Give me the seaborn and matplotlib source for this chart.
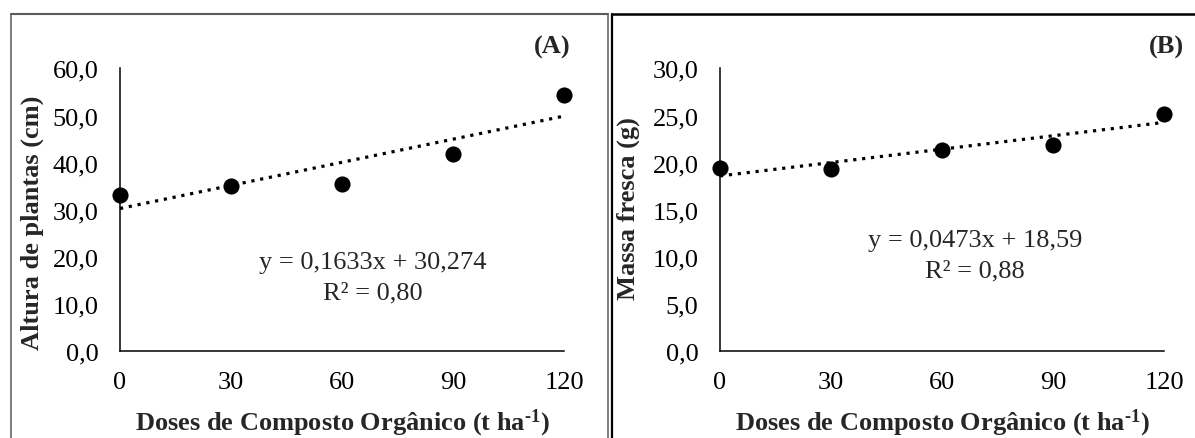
import matplotlib
matplotlib.use("Agg")
import matplotlib.pyplot as plt
from matplotlib.lines import Line2D
from matplotlib.ticker import FuncFormatter, MultipleLocator
import numpy as np
import pandas as pd
import seaborn as sns

# ---------------- data ----------------
doses = [0, 30, 60, 90, 120]
altura = [33.2, 35.1, 35.5, 41.8, 54.4]
massa = [19.4, 19.3, 21.3, 21.9, 25.2]

slope_a, intercept_a = 0.1633, 30.274
slope_b, intercept_b = 0.0473, 18.59

eq_a = "y = 0,1633x + 30,274"
r2_a = "R² = 0,80"
eq_b = "y = 0,0473x + 18,59"
r2_b = "R² = 0,88"
ylabel_a = "Altura de plantas (cm)"
ylabel_b = "Massa fresca (g)"
xlabel = r"Doses de Composto Orgânico (t ha$^{\text{-}1}$)"
panel_a = "(A)"
panel_b = "(B)"

# ---------------- style ----------------
sns.set_theme(style="white")
plt.rcParams["font.family"] = ["Liberation Serif", "DejaVu Serif"]
plt.rcParams["mathtext.fontset"] = "custom"
plt.rcParams["mathtext.rm"] = "Liberation Serif:bold"
plt.rcParams["mathtext.bf"] = "Liberation Serif:bold"
plt.rcParams["mathtext.default"] = "rm"

FS = 19
W, H = 1195, 439
fig = plt.figure(figsize=(W / 100, H / 100), dpi=100)
fig.patch.set_facecolor("white")

def fx(px):
    return px / W

def fy(py):
    return 1 - py / H

ax_a = fig.add_axes([fx(120), fy(352.3), fx(564) - fx(120), fy(69.3) - fy(352.3)])
ax_b = fig.add_axes([fx(720), fy(352.3), fx(1164) - fx(720), fy(69.3) - fy(352.3)])

fmt = FuncFormatter(lambda v, p: f"{v:.1f}".replace(".", ","))

def draw(ax, y, slope, intercept, ymax, ystep, ylabel, eq, r2, eq_xy, ylab_xy):
    df = pd.DataFrame({"dose": doses, "val": y})
    trend = pd.DataFrame({"dose": [doses[0], doses[-1]]})
    trend["fit"] = intercept + slope * trend["dose"]
    sns.lineplot(data=trend, x="dose", y="fit", ax=ax, color="black",
                 linewidth=2.3, linestyle=(0, (1, 1.8)), clip_on=False)
    sns.scatterplot(data=df, x="dose", y="val", ax=ax, color="black",
                    s=135, edgecolor="black", linewidth=0, clip_on=False, zorder=5)
    ax.set_xlim(0, 120)
    ax.set_ylim(0, ymax)
    ax.xaxis.set_major_locator(MultipleLocator(30))
    ax.yaxis.set_major_locator(MultipleLocator(ystep))
    ax.yaxis.set_major_formatter(fmt)
    ax.tick_params(axis="both", length=0, labelsize=FS, colors="black")
    ax.tick_params(axis="y", pad=15.5)
    ax.tick_params(axis="x", pad=14)
    for s in ["top", "right"]:
        ax.spines[s].set_visible(False)
    for s in ["left", "bottom"]:
        ax.spines[s].set_color("black")
        ax.spines[s].set_linewidth(1.1)
    ax.set_facecolor("white")
    ax.grid(False)
    ax.set_xlabel(xlabel, fontsize=FS, fontweight="bold")
    ax.xaxis.set_label_coords(0.5, -0.25)
    ax.xaxis.label.set_verticalalignment("center")
    ax.set_ylabel(ylabel, fontsize=FS, fontweight="bold")
    ax.yaxis.set_label_coords(*ylab_xy)
    ax.yaxis.label.set_verticalalignment("center")
    fig.text(fx(eq_xy[0]), fy(eq_xy[1]), eq, fontsize=FS, ha="center", va="center")
    fig.text(fx(eq_xy[0]), fy(eq_xy[1] + 30), r2, fontsize=FS, ha="center", va="center")

draw(ax_a, altura, slope_a, intercept_a, 60, 10, ylabel_a, eq_a, r2_a, (373, 263),
     (-0.198, 0.457))
draw(ax_b, massa, slope_b, intercept_b, 30, 5, ylabel_b, eq_b, r2_b, (975, 241),
     (-0.206, 0.508))

fig.text(fx(551.7), fy(47), panel_a, fontsize=FS, fontweight="bold",
         ha="center", va="center")
fig.text(fx(1166.5), fy(47), panel_b, fontsize=FS, fontweight="bold",
         ha="center", va="center")

# frames
gray = "#5a5a5a"
fig.add_artist(Line2D([fx(10.5), fx(10.5)], [0, fy(15)], color=gray, lw=1.1,
                      transform=fig.transFigure))
fig.add_artist(Line2D([fx(10.5), fx(608)], [fy(15), fy(15)], color=gray, lw=1.5,
                      transform=fig.transFigure))
fig.add_artist(Line2D([fx(608), fx(608)], [0, fy(15)], color=gray, lw=1.1,
                      transform=fig.transFigure))
fig.add_artist(Line2D([fx(611.5), fx(611.5)], [0, fy(15)], color="black", lw=1.6,
                      transform=fig.transFigure))
fig.add_artist(Line2D([fx(611.5), 1.0], [fy(15), fy(15)], color="black", lw=1.8,
                      transform=fig.transFigure))

fig.savefig("out.png", dpi=100, facecolor="white")
